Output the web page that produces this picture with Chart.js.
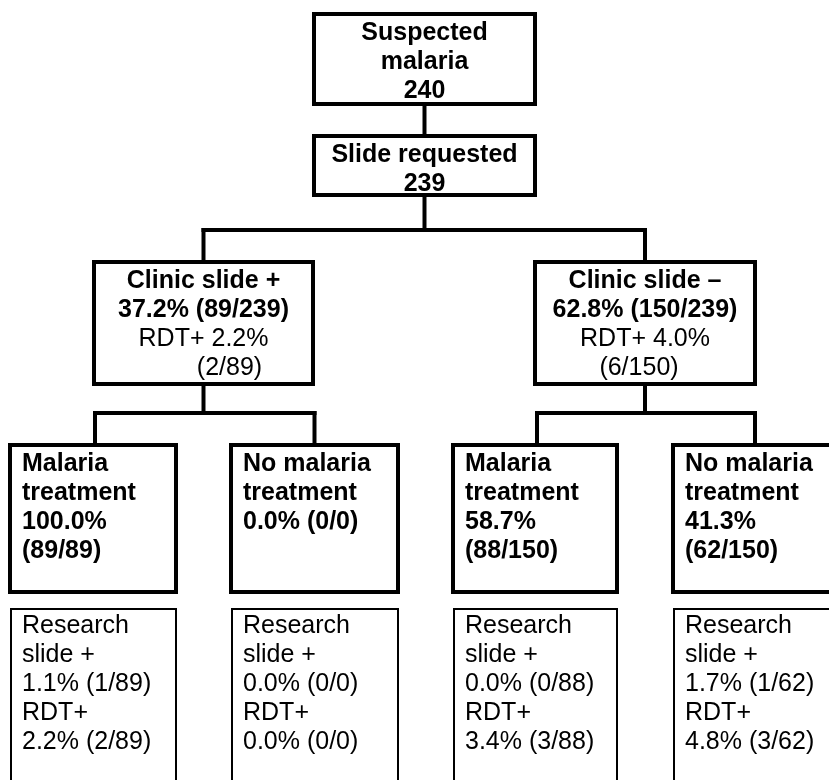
<!DOCTYPE html>
<html>
<head>
<meta charset="utf-8">
<script src="https://cdn.jsdelivr.net/npm/chart.js@4/dist/chart.umd.min.js"></script>
<style>
  html, body { margin: 0; padding: 0; background: #fff; overflow: hidden; }
  canvas { display: block; }
</style>
</head>
<body>
<canvas id="flow" width="829" height="780"></canvas>
<script>
// ── DATA ──
const stageTitles  = [['Suspected', 'malaria'], ['Slide requested']];
const stageCounts  = [240, 239];

const clinicTitles = ['Clinic slide +', 'Clinic slide \u2013'];
const clinicNum    = [89, 150];
const clinicDen    = [239, 239];
const clinicPct    = ['37.2', '62.8'];
const clinicRdtNum = [2, 6];
const clinicRdtDen = [89, 150];
const clinicRdtPct = ['2.2', '4.0'];

const treatTitles  = [['Malaria', 'treatment'], ['No malaria', 'treatment'],
                      ['Malaria', 'treatment'], ['No malaria', 'treatment']];
const treatNum     = [89, 0, 88, 62];
const treatDen     = [89, 0, 150, 150];
const treatPct     = ['100.0', '0.0', '58.7', '41.3'];

const researchNum  = [1, 0, 0, 1];
const researchDen  = [89, 0, 88, 62];
const researchPct  = ['1.1', '0.0', '0.0', '1.7'];
const rdtNum       = [2, 0, 3, 3];
const rdtDen       = [89, 0, 88, 62];
const rdtPct       = ['2.2', '0.0', '3.4', '4.8'];

// ── LAYOUT (axis units) ──
const TOP_BOX   = [{ x0: 314, x1: 535, y0: 14,  y1: 104 }, { x0: 314, x1: 535, y0: 136, y1: 195 }];
const MID_BOX   = [{ x0: 94,  x1: 313, y0: 262, y1: 384 }, { x0: 535, x1: 755, y0: 262, y1: 384 }];
const LEAF_X    = [[10, 176], [231, 398], [453, 617], [673, 837]];
const TREAT_Y   = [445, 592];
const RESEARCH_Y = [609, 830];
const BUS_Y     = [230, 413];
const FRAC_SHIFT = [26, -6];     // the "(n/d)" line in the clinic boxes sits off-centre
const LINE_H    = 29;
const FONT      = '"Liberation Sans", Arial, Helvetica, sans-serif';
const BOLD      = 'bold 25px ' + FONT;
const NORMAL    = '25px ' + FONT;
const CAP_HALF  = 9;

const frac = (p, n, d) => p + '% (' + n + '/' + d + ')';

// ── FLOWCHART PLUGIN ──
const flowPlugin = {
    id: 'flow',
    afterDraw(chart) {
        const ctx = chart.ctx;
        const sx = v => chart.scales.x.getPixelForValue(v);
        const sy = v => chart.scales.y.getPixelForValue(v);

        ctx.save();
        ctx.strokeStyle = '#000';
        ctx.fillStyle = '#000';
        ctx.lineJoin = 'miter';

        const rect = (x0, y0, x1, y1, w) => {
            ctx.lineWidth = w;
            ctx.strokeRect(sx(x0), sy(y0), sx(x1) - sx(x0), sy(y1) - sy(y0));
        };
        const seg = (x0, y0, x1, y1) => {
            ctx.lineWidth = 4;
            ctx.lineCap = 'square';
            ctx.beginPath();
            ctx.moveTo(sx(x0), sy(y0));
            ctx.lineTo(sx(x1), sy(y1));
            ctx.stroke();
        };
        // lines: [{t, font, dx}]
        const textBlock = (lines, x, yFirst, align) => {
            ctx.textAlign = align;
            ctx.textBaseline = 'alphabetic';
            lines.forEach((l, i) => {
                ctx.font = l.font;
                ctx.fillText(l.t, sx(x + (l.dx || 0)), sy(yFirst + i * LINE_H) + CAP_HALF);
            });
        };
        const mid = b => (b.x0 + b.x1) / 2;

        // connectors
        seg(mid(TOP_BOX[0]), TOP_BOX[0].y1, mid(TOP_BOX[0]), TOP_BOX[1].y0);
        seg(mid(TOP_BOX[1]), TOP_BOX[1].y1, mid(TOP_BOX[1]), BUS_Y[0]);
        seg(mid(MID_BOX[0]), BUS_Y[0], mid(MID_BOX[1]), BUS_Y[0]);
        MID_BOX.forEach((b, i) => {
            seg(mid(b), BUS_Y[0], mid(b), b.y0);
            seg(mid(b), b.y1, mid(b), BUS_Y[1]);
            const ca = (LEAF_X[2 * i][0] + LEAF_X[2 * i][1]) / 2 + 2;
            const cb = (LEAF_X[2 * i + 1][0] + LEAF_X[2 * i + 1][1]) / 2;
            seg(ca, BUS_Y[1], cb, BUS_Y[1]);
            seg(ca, BUS_Y[1], ca, TREAT_Y[0]);
            seg(cb, BUS_Y[1], cb, TREAT_Y[0]);
        });

        // top boxes
        TOP_BOX.forEach((b, i) => {
            rect(b.x0, b.y0, b.x1, b.y1, 4);
            const lines = stageTitles[i].concat([String(stageCounts[i])]).map(t => ({ t, font: BOLD }));
            textBlock(lines, mid(b), b.y0 + 17, 'center');
        });

        // clinic boxes
        MID_BOX.forEach((b, i) => {
            rect(b.x0, b.y0, b.x1, b.y1, 4);
            const lines = [
                { t: clinicTitles[i], font: BOLD },
                { t: frac(clinicPct[i], clinicNum[i], clinicDen[i]), font: BOLD },
                { t: 'RDT+ ' + clinicRdtPct[i] + '%', font: NORMAL },
                { t: '(' + clinicRdtNum[i] + '/' + clinicRdtDen[i] + ')', font: NORMAL, dx: FRAC_SHIFT[i] }
            ];
            textBlock(lines, mid(b), b.y0 + 16.5, 'center');
        });

        // treatment + research boxes
        LEAF_X.forEach(([x0, x1], i) => {
            rect(x0, TREAT_Y[0], x1, TREAT_Y[1], 4);
            const inner = sx(x1) - sx(x0) - 24;
            const lines = treatTitles[i].map(t => ({ t, font: BOLD }));
            const one = frac(treatPct[i], treatNum[i], treatDen[i]);
            ctx.font = BOLD;
            if (ctx.measureText(one).width <= inner) {
                lines.push({ t: one, font: BOLD });
            } else {
                lines.push({ t: treatPct[i] + '%', font: BOLD });
                lines.push({ t: '(' + treatNum[i] + '/' + treatDen[i] + ')', font: BOLD });
            }
            textBlock(lines, x0 + 12, TREAT_Y[0] + 17, 'left');

            rect(x0 + 1, RESEARCH_Y[0], x1, RESEARCH_Y[1], 2);
            const rl = ['Research', 'slide +',
                        frac(researchPct[i], researchNum[i], researchDen[i]),
                        'RDT+',
                        frac(rdtPct[i], rdtNum[i], rdtDen[i])].map(t => ({ t, font: NORMAL }));
            textBlock(rl, x0 + 12, RESEARCH_Y[0] + 15, 'left');
        });

        ctx.restore();
    }
};

// anchor points at the box centres so the scales carry the layout
const anchors = TOP_BOX.concat(MID_BOX).map(b => ({ x: (b.x0 + b.x1) / 2, y: (b.y0 + b.y1) / 2 }));

new Chart(document.getElementById('flow').getContext('2d'), {
    type: 'scatter',
    data: { datasets: [{ data: anchors, pointRadius: 0, showLine: false }] },
    options: {
        responsive: false,
        animation: false,
        devicePixelRatio: 1,
        layout: { padding: 0 },
        plugins: { legend: { display: false }, tooltip: { enabled: false }, title: { display: false } },
        scales: {
            x: { type: 'linear', min: 0, max: 829, display: false },
            y: { type: 'linear', min: 0, max: 780, reverse: true, display: false }
        }
    },
    plugins: [flowPlugin]
});
</script>
</body>
</html>
